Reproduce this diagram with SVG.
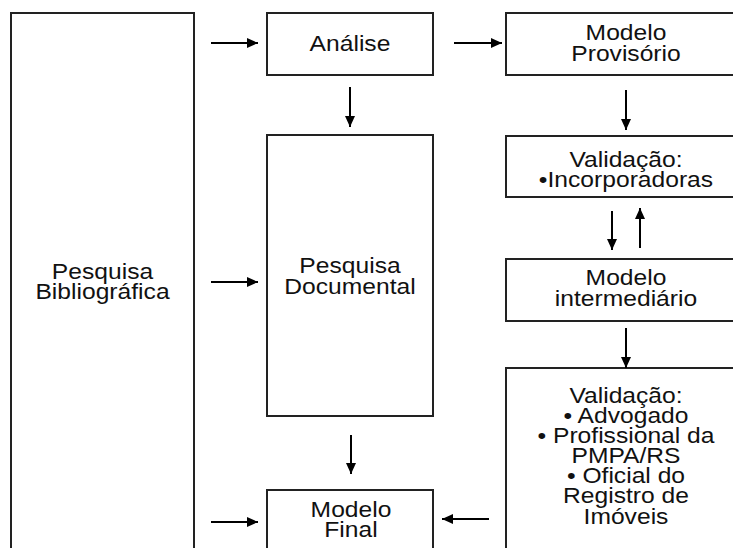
<svg xmlns="http://www.w3.org/2000/svg" width="733" height="548" viewBox="0 0 733 548">
<style>
.box{fill:#fff;stroke:#222;stroke-width:2}
.lbl{font-family:"Liberation Sans",Arial,sans-serif;font-size:22px;fill:#111;text-anchor:middle}
.arr{stroke:#000;stroke-width:2;fill:none;marker-end:url(#ah)}
</style>
<defs>
<marker id="ah" markerUnits="userSpaceOnUse" markerWidth="12" markerHeight="12" viewBox="0 0 12 12" refX="11" refY="6" orient="auto">
<path d="M0,1 L11,6 L0,11 Z" fill="#000"/>
</marker>
</defs>
<rect width="733" height="548" fill="#fff"/>
<g id="pesquisa-bibliografica">
<rect class="box" x="11" y="13" width="183" height="560"/>
<text class="lbl" transform="translate(102.5 0) scale(1.12 1)"><tspan x="0" y="279">Pesquisa</tspan><tspan x="0" y="299">Bibliográfica</tspan></text>
</g>
<g id="analise">
<rect class="box" x="267" y="13" width="166" height="62"/>
<text class="lbl" transform="translate(350 0) scale(1.12 1)"><tspan x="0" y="51">Análise</tspan></text>
</g>
<g id="pesquisa-documental">
<rect class="box" x="267" y="135" width="166" height="281"/>
<text class="lbl" transform="translate(350 0) scale(1.12 1)"><tspan x="0" y="273">Pesquisa</tspan><tspan x="0" y="294">Documental</tspan></text>
</g>
<g id="modelo-final">
<rect class="box" x="267" y="490" width="166" height="80"/>
<text class="lbl" transform="translate(351 0) scale(1.12 1)"><tspan x="0" y="517">Modelo</tspan><tspan x="0" y="537">Final</tspan></text>
</g>
<g id="modelo-provisorio">
<rect class="box" x="506" y="13" width="240" height="62"/>
<text class="lbl" transform="translate(626 0) scale(1.12 1)"><tspan x="0" y="40">Modelo</tspan><tspan x="0" y="61">Provisório</tspan></text>
</g>
<g id="validacao-incorporadoras">
<rect class="box" x="506" y="136" width="240" height="61"/>
<text class="lbl" transform="translate(626 0) scale(1.12 1)"><tspan x="0" y="167">Validação:</tspan><tspan x="0" y="187">•Incorporadoras</tspan></text>
</g>
<g id="modelo-intermediario">
<rect class="box" x="506" y="259" width="240" height="62"/>
<text class="lbl" transform="translate(626 0) scale(1.12 1)"><tspan x="0" y="285">Modelo</tspan><tspan x="0" y="306">intermediário</tspan></text>
</g>
<g id="validacao-final">
<rect class="box" x="506" y="368" width="240" height="200"/>
<text class="lbl" transform="translate(626 0) scale(1.12 1)"><tspan x="0" y="403">Validação:</tspan><tspan x="0" y="423">• Advogado</tspan><tspan x="0" y="443">• Profissional da</tspan><tspan x="0" y="463">PMPA/RS</tspan><tspan x="0" y="483">• Oficial do</tspan><tspan x="0" y="503">Registro de</tspan><tspan x="0" y="524">Imóveis</tspan></text>
</g>
<g id="connectors">
<line class="arr" x1="211" y1="43" x2="258" y2="43"/>
<line class="arr" x1="454" y1="43" x2="502" y2="43"/>
<line class="arr" x1="350" y1="87" x2="350" y2="127"/>
<line class="arr" x1="626" y1="90" x2="626" y2="130"/>
<line class="arr" x1="612" y1="211" x2="612" y2="250"/>
<line class="arr" x1="640" y1="248" x2="640" y2="208"/>
<line class="arr" x1="626" y1="328" x2="626" y2="368"/>
<line class="arr" x1="211" y1="282" x2="258" y2="282"/>
<line class="arr" x1="351" y1="435" x2="351" y2="474"/>
<line class="arr" x1="211" y1="522" x2="258" y2="522"/>
<line class="arr" x1="489" y1="519" x2="442" y2="519"/>
</g>
</svg>
